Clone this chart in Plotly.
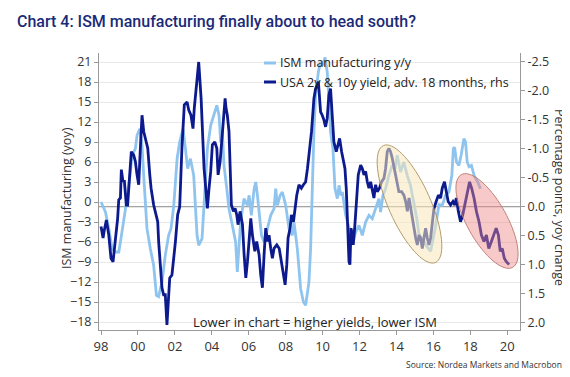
import math
import plotly.graph_objects as go

# ---------------- data ----------------
ism_x = [1998.0, 1998.24, 1998.42, 1998.6, 1998.78, 1998.96, 1999.05, 1999.23, 1999.41, 1999.59,
         1999.68, 1999.86, 1999.95, 2000.1, 2000.22, 2000.31, 2000.4, 2000.49, 2000.67, 2000.85,
         2001.0, 2001.12, 2001.3, 2001.48, 2001.66, 2001.79, 2001.94, 2002.12, 2002.26, 2002.44,
         2002.57, 2002.69, 2002.84, 2003.02, 2003.2, 2003.29, 2003.47, 2003.62, 2003.76, 2003.94,
         2004.12, 2004.27, 2004.39, 2004.48, 2004.57, 2004.66, 2004.81, 2004.93, 2005.11, 2005.29,
         2005.38, 2005.47, 2005.56, 2005.74, 2005.84, 2005.93, 2006.02, 2006.14, 2006.29, 2006.38,
         2006.47, 2006.56, 2006.69, 2006.83, 2007.01, 2007.19, 2007.37, 2007.46, 2007.55, 2007.7,
         2007.82, 2008.0, 2008.18, 2008.36, 2008.45, 2008.63, 2008.81, 2008.96, 2009.08, 2009.26,
         2009.35, 2009.44, 2009.53, 2009.62, 2009.77, 2009.89, 2010.02, 2010.13, 2010.25, 2010.34,
         2010.43, 2010.56, 2010.67, 2010.8, 2010.89, 2010.98, 2011.07, 2011.25, 2011.39, 2011.52,
         2011.65, 2011.79, 2011.97, 2012.15, 2012.33, 2012.51, 2012.69, 2012.87, 2013.05, 2013.14,
         2013.27, 2013.41, 2013.59, 2013.77, 2013.92, 2014.04, 2014.22, 2014.4, 2014.58, 2014.76,
         2014.95, 2015.1, 2015.22, 2015.4, 2015.58, 2015.85, 2016.1, 2016.3, 2016.48, 2016.66,
         2016.84, 2017.0, 2017.08, 2017.15, 2017.25, 2017.38, 2017.5, 2017.65, 2017.74, 2017.83,
         2017.93, 2018.06, 2018.2, 2018.4, 2018.55]
ism_y = [0, -1.5, -4, -7, -7.5, -7.5, -6, -3, 0.5, 4.5,
         7, 8, 10, 11, 8.5, 4, 0.5, -4, -7, -9.5,
         -14, -14.2, -12, -8, -5, -4, -0.5, 6.5, 9, 11,
         8, 5, 6.5, 4, -5, -6.5, -5.5, 2, 8, 11.5,
         13, 14.5, 13, 9, 10.5, 5.5, 2, -1, -3.5, -6,
         -10.5, -7, -3, 0.5, 0, -0.5, 1, -2, 2, 3,
         1, -2, -5, -6, -4, -2, -1, 2, -0.5, 1,
         1.5, -0.5, -4, -5, -3, -7, -13, -15, -15.5, -12,
         -7, 3, 10.5, 16, 19.5, 21, 20.5, 21.7, 19.5, 15.5,
         10.5, 8, 2, 0.5, 2.5, 1, 1.5, -2, -3.5, -5,
         -6, -4.5, -3.5, -5, -3, -2, -2.5, -1, 0.5, -1.5,
         1, 2, 4, 5.5, 5, 7, 4.5, 6, 4, 2.5,
         0, -2.5, -4.9, -5.5, -6.4, -7.4, -3.9, -0.4, -0.5, 1,
         1.5, 4, 8, 8.2, 6, 5.5, 7, 9.5, 9, 6,
         5.3, 5.5, 4, 3, 2]

usa_x = [1998.0, 1998.11, 1998.18, 1998.29, 1998.42, 1998.54, 1998.65, 1998.72, 1998.83, 1998.9,
         1998.96, 1999.05, 1999.1, 1999.19, 1999.26, 1999.37, 1999.44, 1999.55, 1999.64, 1999.77,
         1999.86, 1999.95, 2000.04, 2000.13, 2000.22, 2000.31, 2000.4, 2000.53, 2000.64, 2000.71,
         2000.85, 2001.0, 2001.07, 2001.12, 2001.21, 2001.3, 2001.39, 2001.48, 2001.57, 2001.66,
         2001.72, 2001.84, 2001.93, 2002.03, 2002.15, 2002.26, 2002.38, 2002.51, 2002.66, 2002.75,
         2002.87, 2002.98, 2003.05, 2003.16, 2003.29, 2003.42, 2003.52, 2003.58, 2003.67, 2003.76,
         2003.85, 2003.94, 2004.03, 2004.16, 2004.27, 2004.34, 2004.45, 2004.57, 2004.66, 2004.72,
         2004.77, 2004.84, 2004.93, 2005.0, 2005.06, 2005.17, 2005.26, 2005.35, 2005.42, 2005.53,
         2005.66, 2005.75, 2005.84, 2005.93, 2006.02, 2006.11, 2006.2, 2006.33, 2006.43, 2006.56,
         2006.65, 2006.74, 2006.83, 2006.92, 2007.02, 2007.1, 2007.19, 2007.28, 2007.37, 2007.52,
         2007.65, 2007.77, 2007.88, 2007.97, 2008.06, 2008.13, 2008.24, 2008.31, 2008.42, 2008.49,
         2008.6, 2008.72, 2008.85, 2008.96, 2009.08, 2009.18, 2009.4, 2009.53, 2009.62, 2009.77,
         2009.89, 2009.98, 2010.07, 2010.16, 2010.25, 2010.34, 2010.43, 2010.52, 2010.61, 2010.74,
         2010.85, 2010.92, 2011.03, 2011.1, 2011.21, 2011.28, 2011.34, 2011.39, 2011.43, 2011.48,
         2011.54, 2011.61, 2011.66, 2011.75, 2011.84, 2011.93, 2012.06, 2012.15, 2012.24, 2012.33,
         2012.42, 2012.51, 2012.6, 2012.69, 2012.78, 2012.87, 2012.96, 2013.08, 2013.19, 2013.32,
         2013.41, 2013.5, 2013.59, 2013.68, 2013.77, 2013.95, 2014.13, 2014.28, 2014.4, 2014.5,
         2014.59, 2014.68, 2014.77, 2014.86, 2014.95, 2015.04, 2015.13, 2015.22, 2015.31, 2015.4,
         2015.49, 2015.58, 2015.67, 2015.76, 2015.85, 2015.94, 2016.03, 2016.15, 2016.27, 2016.39,
         2016.48, 2016.6, 2016.7, 2016.8, 2016.93, 2017.06, 2017.16, 2017.24, 2017.35, 2017.47,
         2017.59, 2017.7, 2017.83, 2017.96, 2018.07, 2018.2, 2018.33, 2018.47, 2018.6, 2018.74,
         2018.87, 2019.0, 2019.14, 2019.28, 2019.4, 2019.52, 2019.62, 2019.73, 2019.84, 2019.95,
         2020.1]
usa_y = [0.34, 0.54, 0.40, 0.23, 0.49, 0.89, 0.95, 0.72, 0.49, 0.20,
         -0.12, -0.15, -0.64, -0.43, -0.46, -0.03, -0.03, -0.55, -0.95, -0.89,
         -0.78, -0.55, -0.38, -1.01, -1.58, -1.30, -1.18, -1.01, -0.55, -0.32,
         -0.03, 0.14, 0.26, 0.60, 0.95, 1.40, 1.52, 1.52, 2.04, 1.64,
         1.23, 1.18, 0.95, 0.60, 0.14, 0.0, -1.01, -1.76, -1.81, -1.67,
         -1.58, -1.35, -1.70, -2.04, -2.50, -1.87, -1.01, -0.66, -0.32, 0.03,
         -0.32, -0.61, -1.07, -1.12, -1.01, -0.55, -0.78, -1.24, -1.58, -1.87,
         -1.70, -1.58, -1.30, -0.72, -0.03, 0.08, 0.03, 0.14, 0.31, 0.08,
         0.31, 0.83, 1.23, 0.95, 0.60, 0.20, 0.49, 0.77, 0.60, 0.83,
         1.18, 1.40, 0.83, 0.37, 0.60, 0.49, 0.72, 0.89, 0.72, 0.66,
         0.72, 0.95, 1.18, 1.35, 1.0, 0.54, 0.37, 0.14, 0.26, 0.08,
         -0.20, -0.38, -0.32, -0.38, -0.43, -0.66, -1.30, -1.87, -2.04, -2.16,
         -1.64, -1.58, -1.50, -1.38, -1.53, -1.93, -2.04, -1.58, -1.12, -0.95,
         -1.07, -1.18, -0.95, -0.84, -0.66, -0.32, 0.26, 0.37, 0.95, 1.0,
         0.37, 0.49, 0.66, 0.31, -0.15, -0.55, -0.72, -0.66, -0.55, -0.61,
         -0.43, -0.32, -0.43, -0.26, -0.15, -0.38, -0.26, -0.32, -0.43, -0.49,
         -0.66, -0.95, -1.01, -0.95, -0.84, -0.55, -0.26, -0.26, -0.20, -0.09,
         0.08, -0.15, 0.03, 0.14, 0.37, 0.54, 0.66, 0.49, 0.54, 0.72,
         0.54, 0.37, 0.54, 0.66, 0.54, 0.26, 0.03, -0.09, -0.20, -0.15,
         -0.32, -0.43, -0.26, -0.09, -0.03, -0.09, -0.03, -0.15, 0.08, 0.26,
         0.14, -0.03, -0.20, -0.43, -0.32, -0.15, 0.08, 0.26, 0.49, 0.60,
         0.49, 0.72, 0.60, 0.49, 0.37, 0.49, 0.77, 0.72, 0.89, 0.95,
         1.0]

x_tick_vals = [1998, 2000, 2002, 2004, 2006, 2008, 2010, 2012, 2014, 2016, 2018, 2020]
x_tick_text = ["98", "00", "02", "04", "06", "08", "10", "12", "14", "16", "18", "20"]
left_ticks = [21, 18, 15, 12, 9, 6, 3, 0, -3, -6, -9, -12, -15, -18]
right_ticks = [-2.5, -2.0, -1.5, -1.0, -0.5, 0.0, 0.5, 1.0, 1.5, 2.0]
right_tick_text = ["-2.5", "-2.0", "-1.5", "-1.0", "-0.5", "0.0", "0.5", "1.0", "1.5", "2.0"]
series_names = ["ISM manufacturing y/y", "USA 2y & 10y yield, adv. 18 months, rhs"]

# ---------------- layout geometry ----------------
W, H = 570, 377
L, R, T, B = 91, 58, 45, 55
PW, PH = W - L - R, H - T - B

LIGHT = "#8fc4ef"
DARK = "#0c1a8e"
FONT = "Open Sans"
TXT = "#333333"


def px_x(px):
    return (px - L) / PW


def px_y(py):
    return (H - B - py) / PH


def ellipse_path(cx, cy, a, b, theta_deg, n=72):
    """Tilted ellipse in pixel space -> paper-coordinate SVG path."""
    th = math.radians(theta_deg)
    pts = []
    for i in range(n):
        t = 2 * math.pi * i / n
        u = b * math.cos(t)
        v = a * math.sin(t)
        px = cx + u * math.cos(th) - v * math.sin(th)
        py = cy + u * math.sin(th) + v * math.cos(th)
        pts.append((px_x(px), px_y(py)))
    return "M " + " L ".join(f"{x:.4f},{y:.4f}" for x, y in pts) + " Z"


fig = go.Figure()
fig.add_trace(go.Scatter(x=ism_x, y=ism_y, mode="lines", name=series_names[0],
                         line=dict(color=LIGHT, width=2.8), yaxis="y", showlegend=False))
fig.add_trace(go.Scatter(x=usa_x, y=usa_y, mode="lines", name=series_names[1],
                         line=dict(color=DARK, width=2.8), yaxis="y2", showlegend=False))

shapes = [
    dict(type="line", xref="paper", x0=0, x1=1, yref="y2", y0=0, y1=0,
         line=dict(color="#8a8a8a", width=1), layer="below"),
    dict(type="path", xref="paper", yref="paper",
         path=ellipse_path(401.5, 196, 64, 21, -24),
         fillcolor="rgba(247,232,185,0.55)", line=dict(color="rgba(170,145,95,0.9)", width=1),
         layer="above"),
    dict(type="path", xref="paper", yref="paper",
         path=ellipse_path(479, 213, 53, 20, -29),
         fillcolor="rgba(238,135,135,0.45)", line=dict(color="rgba(185,120,110,0.9)", width=1),
         layer="above"),
    # legend keys
    dict(type="line", xref="paper", yref="paper", x0=px_x(256), x1=px_x(268),
         y0=px_y(55), y1=px_y(55), line=dict(color=LIGHT, width=3)),
    dict(type="line", xref="paper", yref="paper", x0=px_x(256), x1=px_x(268),
         y0=px_y(74), y1=px_y(74), line=dict(color=DARK, width=3)),
]

annotations = [
    dict(text="Chart 4: ISM manufacturing finally about to head south?", xref="paper", yref="paper",
         x=px_x(7), y=px_y(14), xanchor="left", yanchor="middle", showarrow=False,
         font=dict(family="Roboto", size=16, color="#1b2a78", weight=500)),
    dict(text=series_names[0], xref="paper", yref="paper", x=px_x(270), y=px_y(55),
         xanchor="left", yanchor="middle", showarrow=False, font=dict(size=12.5, color="#222")),
    dict(text=series_names[1], xref="paper", yref="paper", x=px_x(270), y=px_y(74),
         xanchor="left", yanchor="middle", showarrow=False, font=dict(size=12.5, color="#222")),
    dict(text="Lower in chart = higher yields, lower ISM", xref="paper", yref="paper",
         x=px_x(307), y=px_y(314), xanchor="center", yanchor="middle",
         showarrow=False, font=dict(size=13, color="#222")),
    dict(text="Source: Nordea Markets and Macrobond", xref="paper", yref="paper",
         x=px_x(561), y=px_y(356), xanchor="right", yanchor="middle",
         showarrow=False, font=dict(size=8.5, color="#333")),
    # axis titles
    dict(text="ISM manufacturing (yoy)", xref="paper", yref="paper", x=px_x(58), y=px_y(190),
         xanchor="center", yanchor="middle", textangle=-90, showarrow=False,
         font=dict(size=12.5, color=TXT)),
    dict(text="Percentage points, yoy change", xref="paper", yref="paper", x=px_x(552), y=px_y(189),
         xanchor="center", yanchor="middle", textangle=90, showarrow=False,
         font=dict(size=12.5, color=TXT)),
]

fig.update_layout(
    width=W, height=H,
    margin=dict(l=L, r=R, t=T, b=B),
    paper_bgcolor="white", plot_bgcolor="white",
    font=dict(family=FONT, size=12, color=TXT),
    showlegend=False,
    xaxis=dict(range=[1997.89, 2020.69], tickvals=x_tick_vals, ticktext=x_tick_text,
               showgrid=False, zeroline=False, showline=True, linecolor="#999", linewidth=1,
               ticks="outside", ticklen=4, tickcolor="#999",
               tickfont=dict(size=13, color=TXT)),
    yaxis=dict(range=[-19.2, 22.35], tickvals=left_ticks, showgrid=True, gridcolor="#e8e8e8",
               zeroline=False, showline=True, linecolor="#999", linewidth=1,
               ticks="outside", ticklen=4, tickcolor="#999",
               tickfont=dict(size=12.5, color=TXT)),
    yaxis2=dict(range=[2.129, -2.655], overlaying="y", side="right", tickvals=right_ticks,
                ticktext=right_tick_text, showgrid=False, zeroline=False, showline=True,
                linecolor="#999", linewidth=1, ticks="outside", ticklen=4, tickcolor="#999",
                tickfont=dict(size=12.5, color=TXT)),
    shapes=shapes,
    annotations=annotations,
)

fig.write_html("out.html")
